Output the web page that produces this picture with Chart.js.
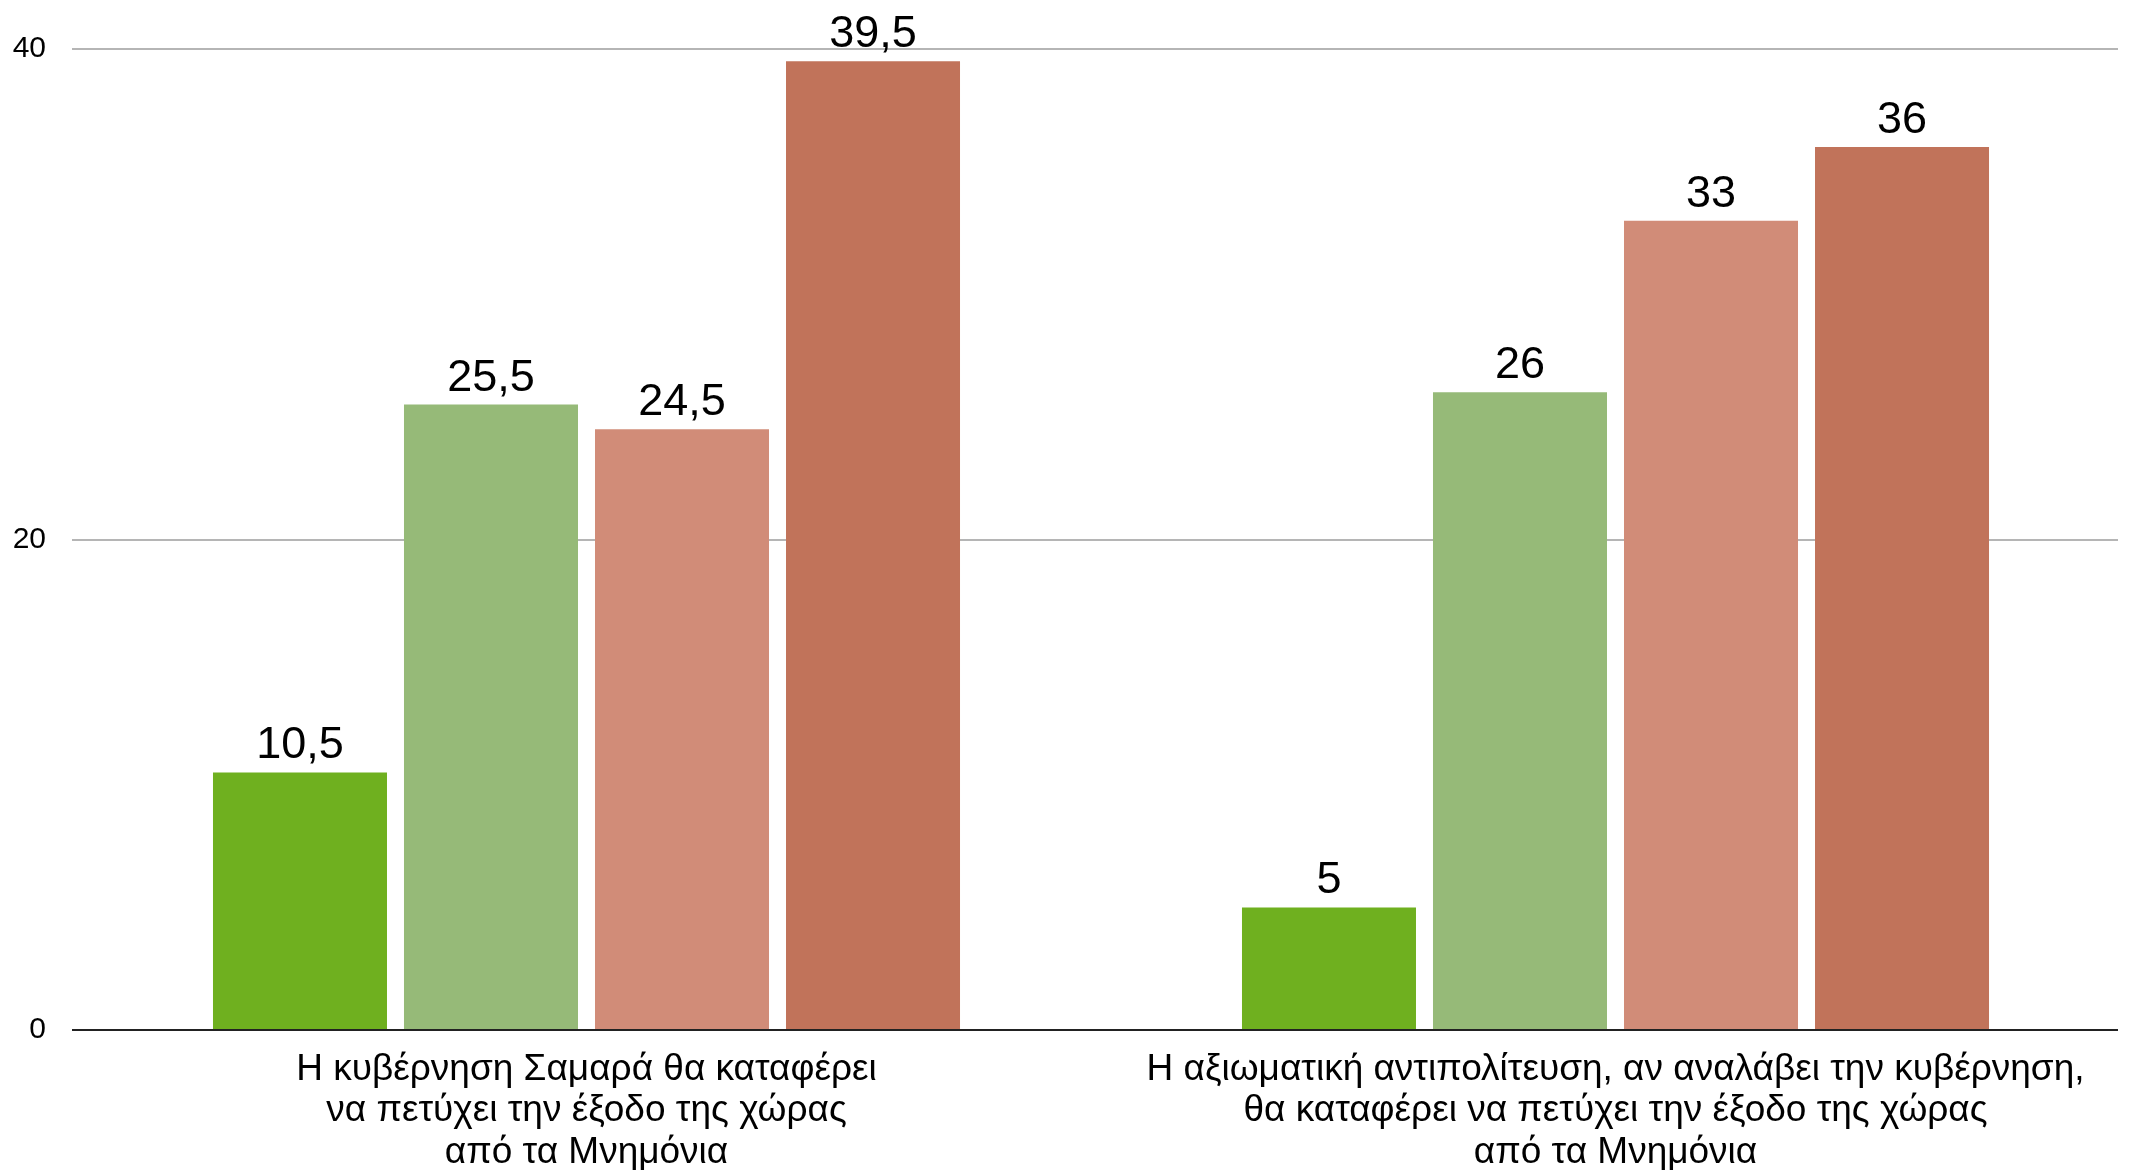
<!DOCTYPE html>
<html>
<head>
<meta charset="utf-8">
<script src="https://cdn.jsdelivr.net/npm/chart.js@4"></script>
<style>
  html, body { margin: 0; padding: 0; background: #ffffff; }
  #wrap { width: 2130px; height: 1170px; position: relative; }
</style>
</head>
<body>
<div id="wrap"><canvas id="c"></canvas></div>
<script>
const categories = [
  ["Η κυβέρνηση Σαμαρά θα καταφέρει", "να πετύχει την έξοδο της χώρας", "από τα Μνημόνια"],
  ["Η αξιωματική αντιπολίτευση, αν αναλάβει την κυβέρνηση,", "θα καταφέρει να πετύχει την έξοδο της χώρας", "από τα Μνημόνια"]
];
const series1 = [10.5, 5];
const series2 = [25.5, 26];
const series3 = [24.5, 33];
const series4 = [39.5, 36];
const seriesColors = ["#6fb01f", "#96ba78", "#d18c78", "#c1735a"];
const yTicks = [0, 20, 40];

const fontFamily = "'Liberation Sans', Arial, Helvetica, sans-serif";

const gridTrim = {
  id: 'gridTrim',
  beforeDatasetsDraw(chart) {
    const ctx = chart.ctx;
    const a = chart.chartArea;
    ctx.save();
    ctx.fillStyle = "#ffffff";
    ctx.fillRect(a.right - 12, a.top - 3, 12, a.bottom - a.top + 6);
    ctx.restore();
  }
};

const valueLabels = {
  id: 'valueLabels',
  afterDatasetsDraw(chart) {
    const ctx = chart.ctx;
    ctx.save();
    ctx.font = "45px " + fontFamily;
    ctx.fillStyle = "#000";
    ctx.textAlign = "center";
    ctx.textBaseline = "bottom";
    chart.data.datasets.forEach((ds, i) => {
      const meta = chart.getDatasetMeta(i);
      meta.data.forEach((bar, j) => {
        const v = ds.data[j];
        const txt = String(v).replace('.', ',');
        ctx.fillText(txt, bar.x, bar.y - 4);
      });
    });
    ctx.restore();
  }
};

const ds = [series1, series2, series3, series4].map((d, i) => ({
  label: "s" + (i + 1),
  data: d,
  backgroundColor: seriesColors[i],
  borderWidth: 0,
  categoryPercentage: 0.7425,
  barPercentage: 0.911
}));

new Chart(document.getElementById('c'), {
  type: 'bar',
  data: { labels: categories, datasets: ds },
  plugins: [gridTrim, valueLabels],
  options: {
    responsive: true,
    maintainAspectRatio: false,
    animation: false,
    layout: { padding: { top: 49, right: 0, left: 0, bottom: 0 } },
    plugins: { legend: { display: false }, tooltip: { enabled: false } },
    scales: {
      x: {
        grid: { display: false },
        border: { display: false },
        ticks: {
          color: "#000",
          font: { family: fontFamily, size: 37, lineHeight: 1.12 },
          padding: 11,
          maxRotation: 0,
          autoSkip: false
        },
        afterFit(scale) { scale.height = 140; }
      },
      y: {
        min: 0, max: 40,
        afterBuildTicks(scale) { scale.ticks = yTicks.map(v => ({ value: v })); },
        grid: {
          drawTicks: false,
          lineWidth: 2,
          color: ctx => (ctx.tick && ctx.tick.value === 0) ? "#222" : "#b5b5b5"
        },
        border: { display: false },
        ticks: {
          color: "#000",
          font: { family: fontFamily, size: 30 },
          padding: 26
        },
        afterFit(scale) { scale.width = 72; }
      }
    }
  }
});
</script>
</body>
</html>
